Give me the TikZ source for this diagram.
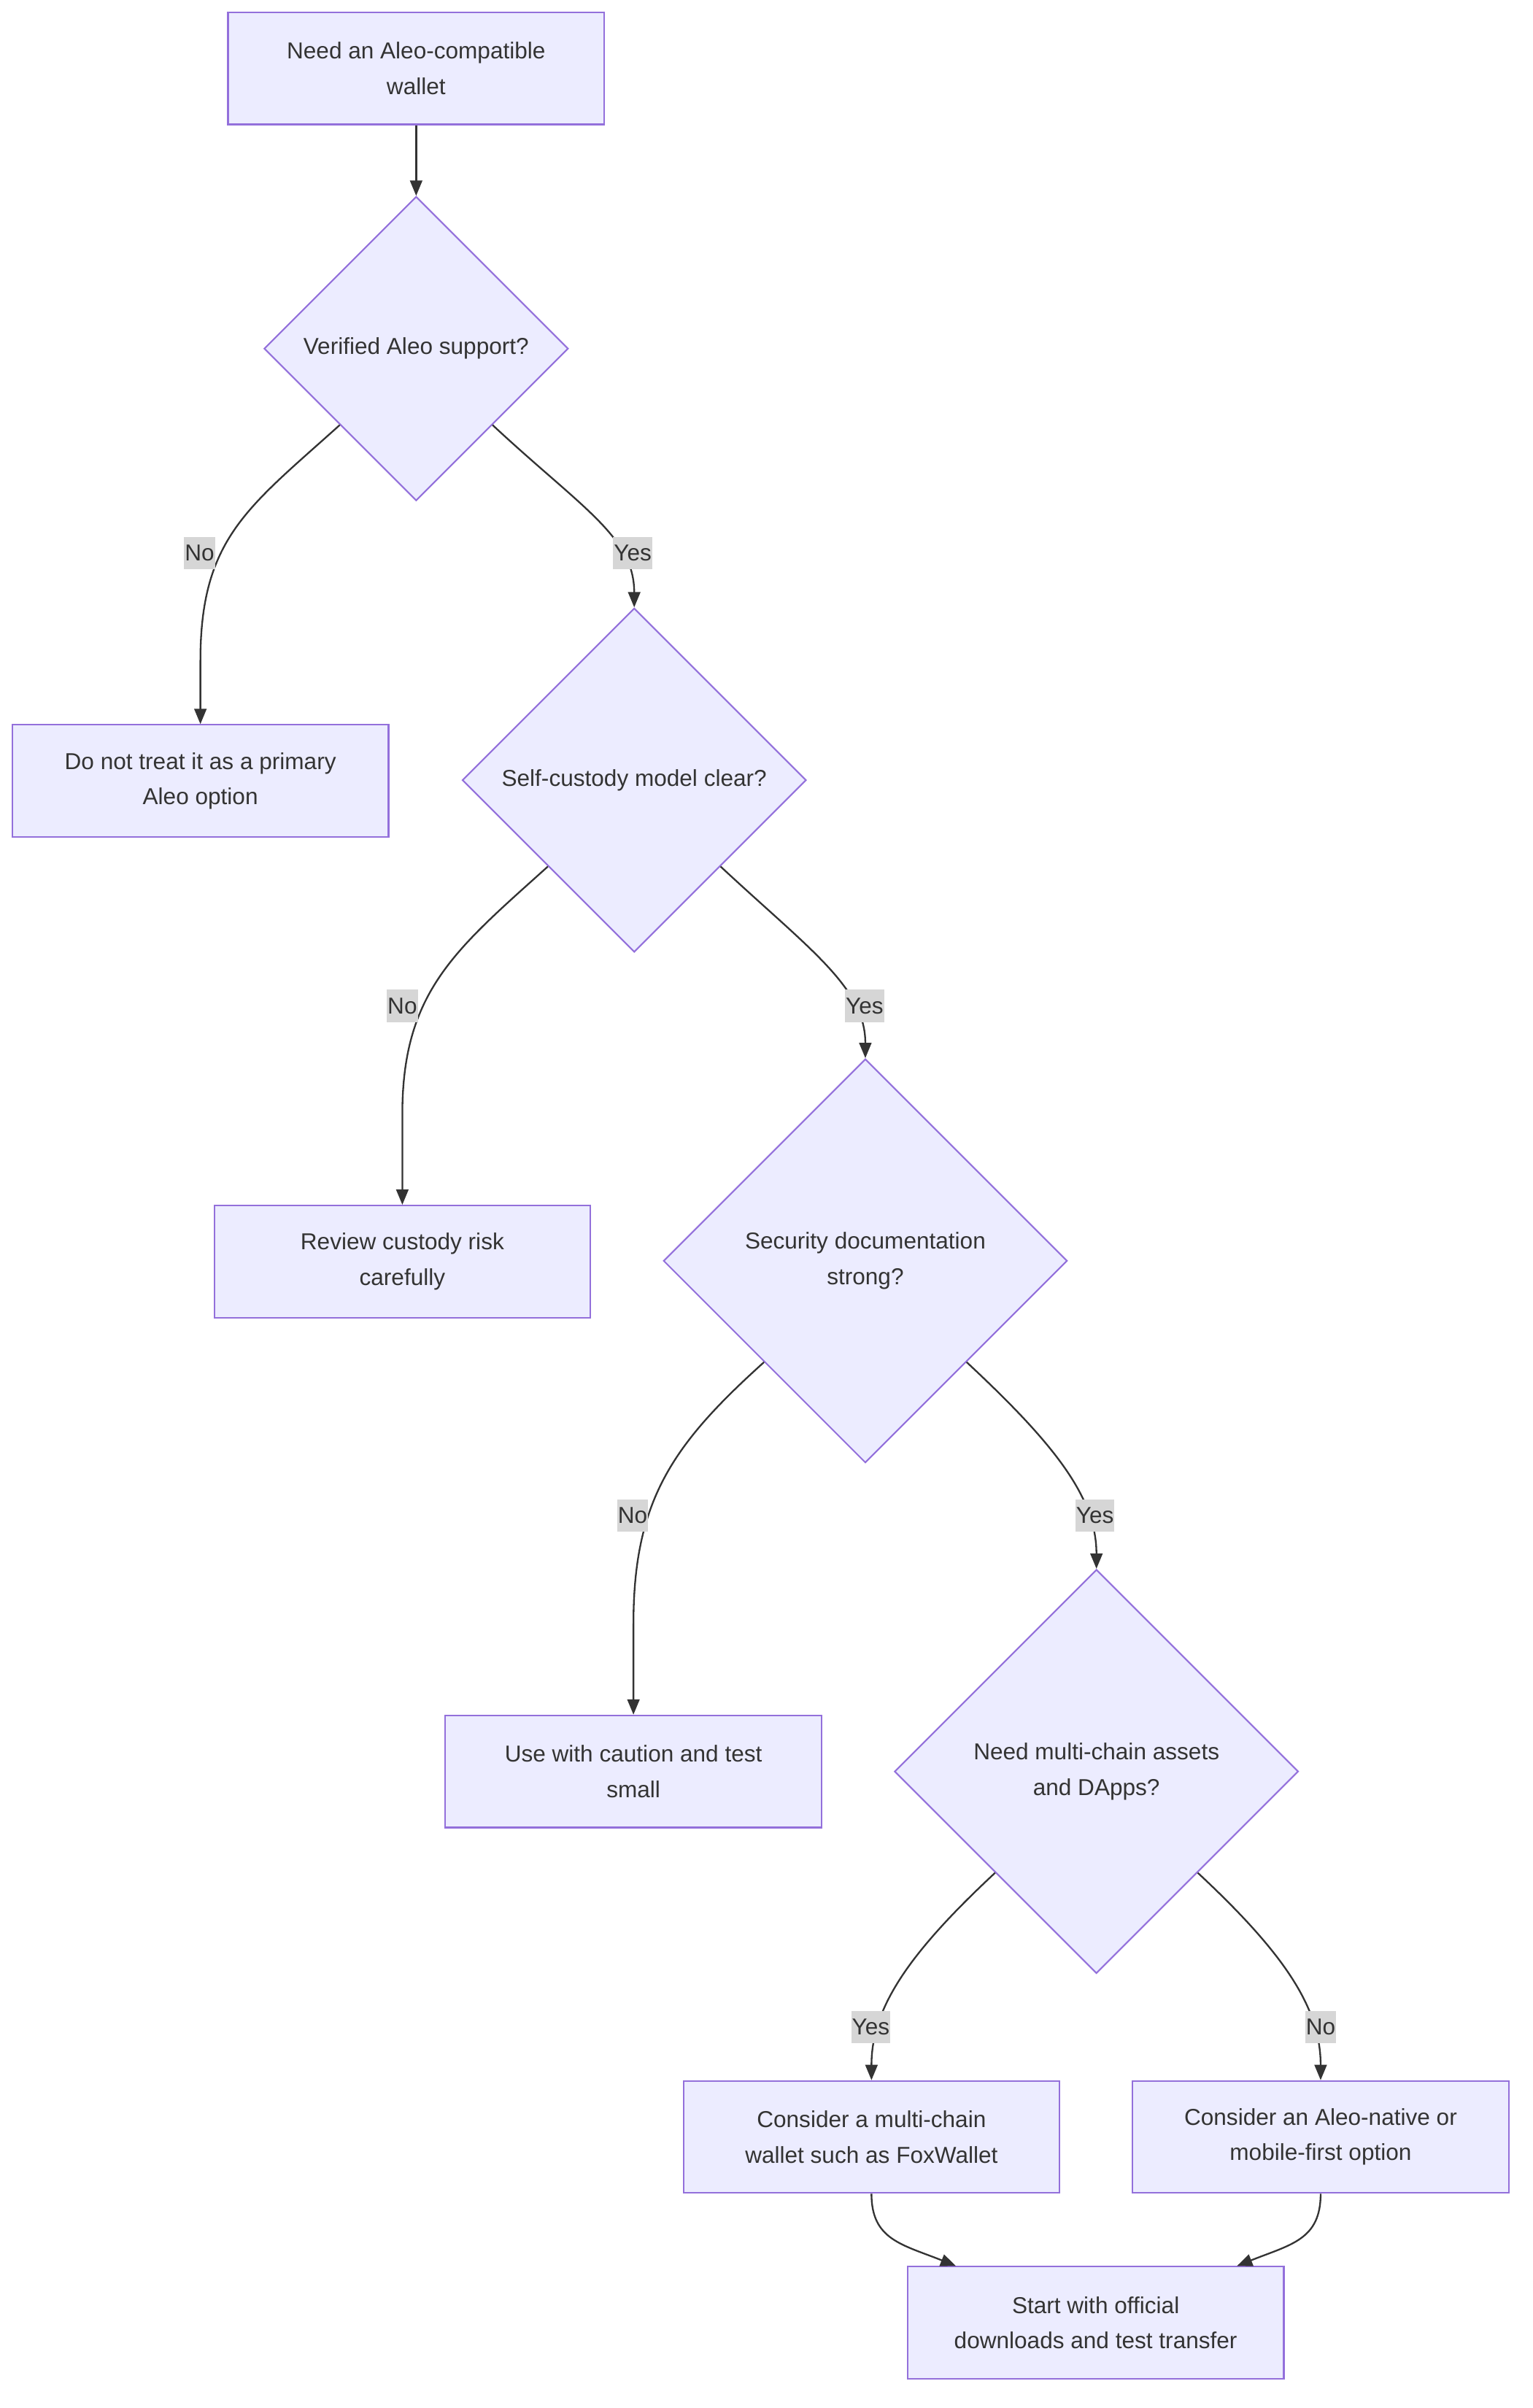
\documentclass[tikz,border=0pt]{standalone}
\usepackage{fontspec}
\setmainfont{Liberation Sans}
\usetikzlibrary{shapes.geometric,arrows.meta,calc}
\definecolor{nodefill}{HTML}{ECECFF}
\definecolor{nodeline}{HTML}{9370DB}
\definecolor{edgecol}{HTML}{333333}
\definecolor{lblfill}{HTML}{D6D6D6}
\definecolor{txt}{HTML}{333333}
\begin{document}
\begin{tikzpicture}[x=1pt,y=-1pt,
 box/.style={draw=nodeline, fill=nodefill, line width=1pt, minimum width=245pt, minimum height=73pt, align=center, text=txt, font=\fontsize{15}{23}\selectfont, inner sep=0pt},
 dec/.style={diamond, aspect=1, draw=nodeline, fill=nodefill, line width=1pt, align=center, text=txt, font=\fontsize{15}{23}\selectfont, inner sep=0pt},
 arr/.style={draw=edgecol, line width=1.1pt, -{Triangle[length=10pt,width=8pt]}},
 lbl/.style={fill=lblfill, text=txt, font=\fontsize{15}{18}\selectfont, inner xsep=0.5pt, inner ysep=2pt, minimum height=21pt}]
\useasboundingbox (0,0) rectangle (998,1568);

\node[box] (a) at (271,44.5) {Need an Aleo-compatible\\wallet};
\node[dec, minimum size=198pt] (d1) at (271,227) {Verified Aleo support?};
\node[box] (b) at (130.5,508.5) {Do not treat it as a primary\\Aleo option};
\node[dec, minimum size=224pt] (d2) at (413,508) {Self-custody model clear?};
\node[box] (c) at (262,821.5) {Review custody risk\\carefully};
\node[dec, minimum size=263pt] (d3) at (563.5,821) {Security documentation\\strong?};
\node[box] (e) at (412.5,1153.5) {Use with caution and test\\small};
\node[dec, minimum size=263pt] (d4) at (714,1153.5) {Need multi-chain assets\\and DApps?};
\node[box] (f) at (567.5,1391.5) {Consider a multi-chain\\wallet such as FoxWallet};
\node[box] (g) at (860,1391.5) {Consider an Aleo-native or\\mobile-first option};
\node[box] (h) at (713.5,1512.5) {Start with official\\downloads and test transfer};

\draw[arr] (a.south) -- (d1.north);
\draw[arr] (d1.south west) .. controls +(-60,54) and +(0,-80) .. ($(b.north)+(0,-41)$) -- (b.north);
\draw[arr] (d1.south east) .. controls +(58,54) and +(0,-46) .. (d2.north);
\draw[arr] (d2.south west) .. controls +(-60,54) and +(0,-80) .. ($(c.north)+(0,-59)$) -- (c.north);
\draw[arr] (d2.south east) .. controls +(58,54) and +(0,-46) .. (d3.north);
\draw[arr] (d3.south west) .. controls +(-60,54) and +(0,-80) .. ($(e.north)+(0,-59)$) -- (e.north);
\draw[arr] (d3.south east) .. controls +(58,54) and +(0,-46) .. (d4.north);
\draw[arr] (d4.south west) .. controls +(-58,54) and +(0,-46) .. (f.north);
\draw[arr] (d4.south east) .. controls +(58,54) and +(0,-46) .. (g.north);
\draw[arr] (f.south) .. controls +(0,30) and +(-35,-14) .. ($(h.north west)+(32,0)$);
\draw[arr] (g.south) .. controls +(0,30) and +(35,-14) .. ($(h.north east)+(-31,0)$);

\node[lbl] (l1) at (130,360) {No};
\node[lbl] (l2) at (412,360) {Yes};
\node[lbl] (l3) at (262,655) {No};
\node[lbl] (l4) at (563,655) {Yes};
\node[lbl] (l5) at (412,987) {No};
\node[lbl] (l6) at (713,987) {Yes};
\node[lbl] (l7) at (567,1320) {Yes};
\node[lbl] (l8) at (860,1320) {No};
\end{tikzpicture}
\end{document}
